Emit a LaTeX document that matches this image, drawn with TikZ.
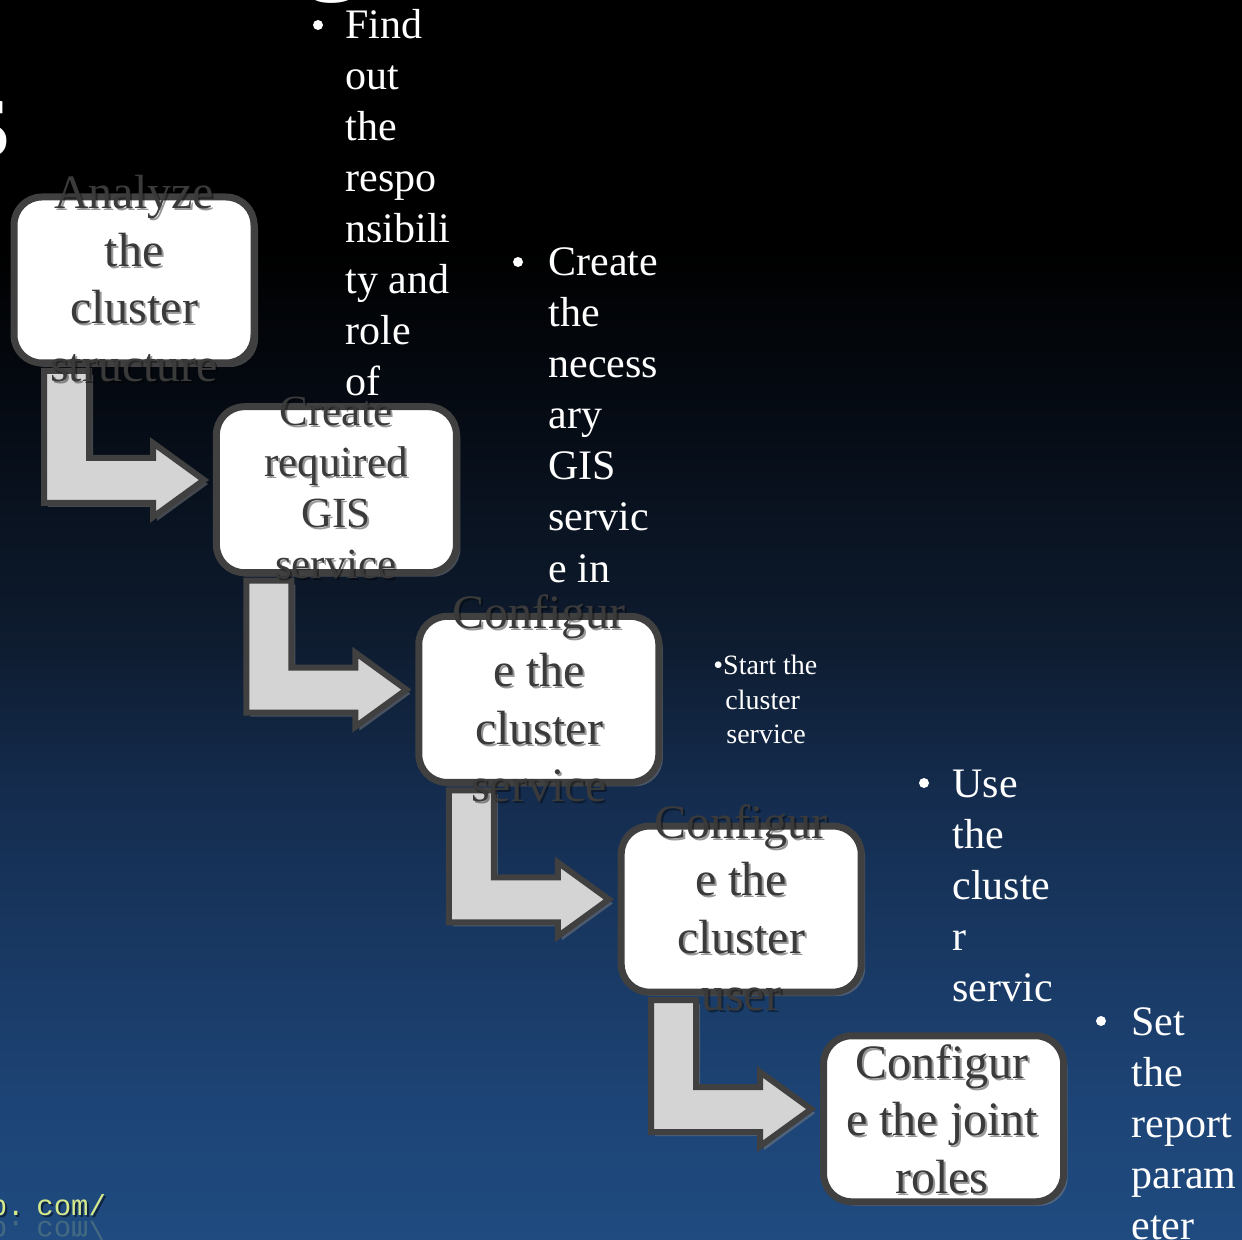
\documentclass[tikz,border=0pt]{standalone}
\usepackage{fontspec}
\setmainfont{Liberation Serif}
\newfontfamily\urlfont{Liberation Mono}
\usetikzlibrary{shadows}
\definecolor{boxedge}{HTML}{404040}
\definecolor{labelgray}{HTML}{3A3A3A}
\definecolor{arrowfill}{HTML}{D4D4D4}
\definecolor{urlgreen}{HTML}{D6EA8C}
\definecolor{bgA}{HTML}{1F4B80}
\definecolor{bgB}{HTML}{1D4476}
\definecolor{bgC}{HTML}{142C4E}
\definecolor{bgD}{HTML}{0E1C30}
\definecolor{bgE}{HTML}{050A12}
% the path's bounding box spans 25bp..75bp of the shading
\pgfdeclareverticalshading{slidebg}{100bp}{color(0bp)=(bgA); color(25bp)=(bgA); color(30.5bp)=(bgB); color(43bp)=(bgC); color(49bp)=(bgD); color(59bp)=(bgE); color(65bp)=(black); color(100bp)=(black)}
\begin{document}
\begin{tikzpicture}[x=0.5pt,y=-0.5pt,
  listtext/.style={font=\fontsize{21pt}{25pt}\selectfont, text=white, anchor=base west, inner sep=0pt},
  smalltext/.style={font=\fontsize{14pt}{17pt}\selectfont, text=white, anchor=base west, inner sep=0pt},
  boxtext/.style={font=\fontsize{24pt}{29pt}\selectfont, text=labelgray, anchor=base, inner sep=0pt},
  boxtextsm/.style={boxtext, font=\fontsize{21.5pt}{26pt}\selectfont},
  textshade/.style={text=black, opacity=0.4},
  stepbox/.style={draw=boxedge, line width=3.5pt, fill=white, rounded corners=14pt,
    minimum width=120pt, minimum height=83pt, inner sep=0pt,
    drop shadow={shadow xshift=2pt, shadow yshift=-2pt, opacity=0.5}},
  bentarrow/.style={draw=boxedge, line width=3pt, fill=arrowfill, line join=miter,
    drop shadow={shadow xshift=2pt, shadow yshift=-2pt, opacity=0.5}},
  bulletdot/.style={fill=white},
  urltext/.style={font=\urlfont\fontsize{14.5pt}{17pt}\selectfont, text=urlgreen, inner sep=0pt}
]
\useasboundingbox (0,0) rectangle (1242,1240);
\clip (0,0) rectangle (1242,1240);

% slide background
\shade[shading=slidebg] (0,0) rectangle (1242,1240);

% fragments of the large heading
\node[text=white, font=\fontsize{60pt}{70pt}\selectfont, anchor=base, inner sep=0pt] (headg) at (333,-22) {g};
\node[text=white, font=\fontsize{60pt}{70pt}\selectfont, anchor=base east, inner sep=0pt] (heads) at (12,157) {s};

% bullet texts beside the steps
\fill[bulletdot] (318,25) circle (2.5pt);
\foreach \w [count=\i from 0] in {Find,out,the,respo,nsibili,ty and,role,of}
  \node[listtext] (la\i) at (345,{39+51*\i}) {\w};

\fill[bulletdot] (518,262) circle (2.5pt);
\foreach \w [count=\i from 0] in {Create,the,necess,ary,GIS,servic,e in}
  \node[listtext] (lb\i) at (548,{276+51*\i}) {\w};

\node[smalltext] (lc0) at (713,675) {\textbullet Start the};
\node[smalltext] (lc1) at (725,709) {cluster};
\node[smalltext] (lc2) at (726,743) {service};

\fill[bulletdot] (924,783) circle (2.5pt);
\foreach \w [count=\i from 0] in {Use,the,cluste,r,servic}
  \node[listtext] (ld\i) at (952,{797+51*\i}) {\w};

\fill[bulletdot] (1101,1021) circle (2.5pt);
\foreach \w [count=\i from 0] in {Set,the,report,param,eter}
  \node[listtext] (le\i) at (1131,{1035+51*\i}) {\w};

% bent arrows leading from one step to the next
\foreach \k in {0,1,2,3} {
  \begin{scope}[shift={({202.4*\k},{209.7*\k})}]
    \draw[bentarrow] (44,371) -- (89,371) -- (89,458) -- (153,458) -- (153,443)
      -- (204,480) -- (153,517) -- (153,503) -- (44,503) -- cycle;
  \end{scope}
}

% step boxes
\foreach \k in {0,...,4}
  \node[stepbox] (b\k) at ({134+202.4*\k},{280+209.7*\k}) {};

% step labels
\foreach \w [count=\i from 0] in {Analyze,the,cluster,structure} {
  \node[boxtext, textshade] (tas\i) at (136,{211+57.5*\i}) {\w};
  \node[boxtext] (ta\i) at (134,{209+57.5*\i}) {\w};
}
\foreach \w [count=\i from 0] in {Create,required,GIS,service} {
  \node[boxtextsm, textshade] (tbs\i) at (338,{428+51*\i}) {\w};
  \node[boxtextsm] (tb\i) at (336,{426+51*\i}) {\w};
}
\foreach \w [count=\i from 0] in {Configur,e the,cluster,service} {
  \node[boxtext, textshade] (tcs\i) at (541,{631+57.5*\i}) {\w};
  \node[boxtext] (tc\i) at (539,{629+57.5*\i}) {\w};
}
\foreach \w [count=\i from 0] in {Configur,e the,cluster,user} {
  \node[boxtext, textshade] (tds\i) at (743,{840+57.5*\i}) {\w};
  \node[boxtext] (td\i) at (741,{838+57.5*\i}) {\w};
}
\foreach \w [count=\i from 0] in {Configur,e the joint,roles} {
  \node[boxtext, textshade] (tes\i) at (944,{1080+57.5*\i}) {\w};
  \node[boxtext] (te\i) at (942,{1078+57.5*\i}) {\w};
}

% web address in the lower left corner, with its reflection
\node[urltext, text=black, opacity=0.5, anchor=base east] (urlas) at (27,1217) {p.};
\node[urltext, text=black, opacity=0.5, anchor=base west] (urlbs) at (38,1217) {com/};
\node[urltext, anchor=base east] (urla) at (25,1215) {p.};
\node[urltext, anchor=base west] (urlb) at (36,1215) {com/};
\node[urltext, opacity=0.2, transform shape, yscale=-1, anchor=base east] (urlar) at (25,1221) {p.};
\node[urltext, opacity=0.2, transform shape, yscale=-1, anchor=base west] (urlbr) at (36,1221) {com/};
\end{tikzpicture}
\end{document}
